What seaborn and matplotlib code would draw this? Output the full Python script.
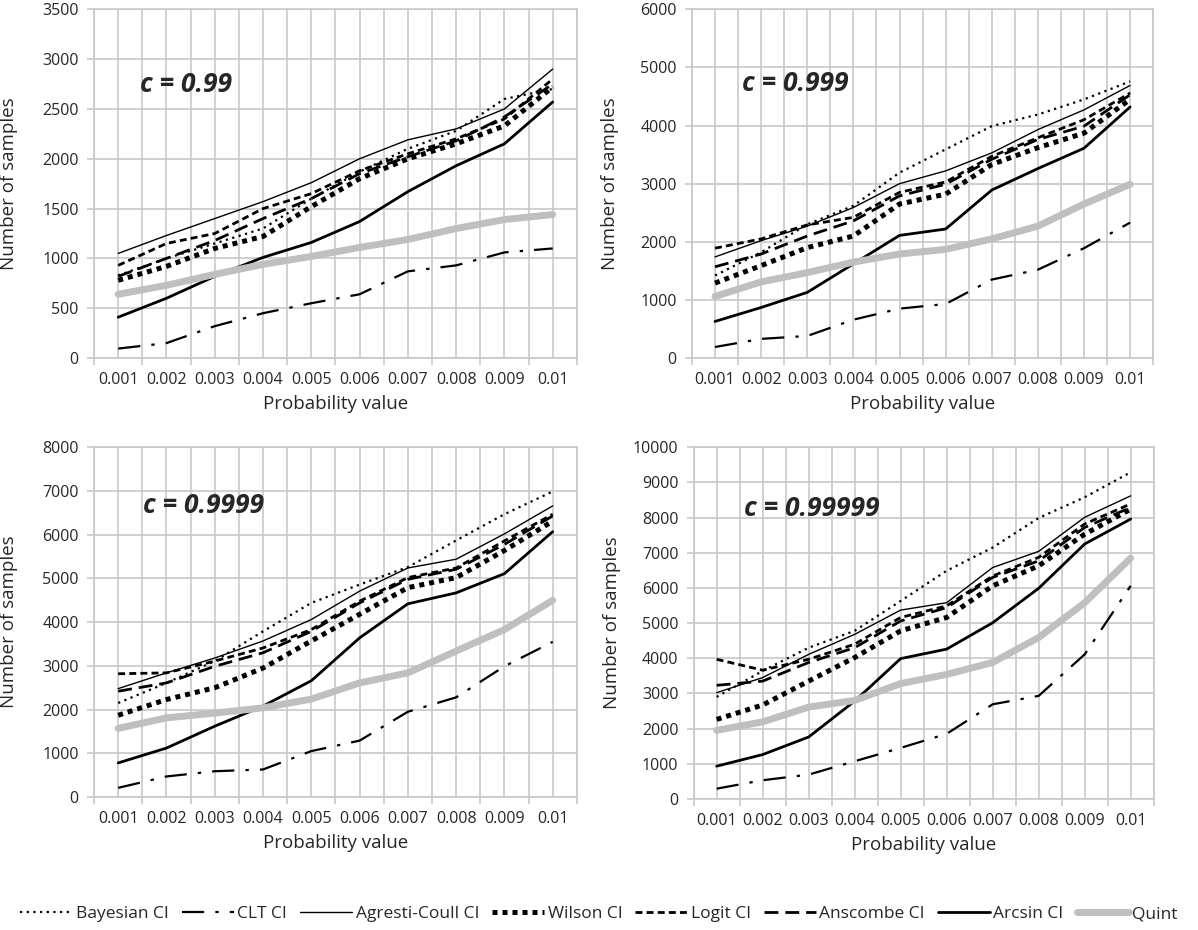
"""
置信区间方法比较：四个置信水平下所需样本数
"""

import matplotlib
matplotlib.use('Agg')
import matplotlib.pyplot as plt
from matplotlib.ticker import FixedLocator
import seaborn as sns

# x 轴
probs = [0.001, 0.002, 0.003, 0.004, 0.005, 0.006, 0.007, 0.008, 0.009, 0.01]
prob_labels = ['0.001', '0.002', '0.003', '0.004', '0.005',
               '0.006', '0.007', '0.008', '0.009', '0.01']

methods = ['Bayesian CI', 'CLT CI', 'Agresti-Coull CI', 'Wilson CI',
           'Logit CI', 'Anscombe CI', 'Arcsin CI', 'Quint']

# c = 0.99
c99 = {
    'Bayesian CI':      [830, 1000, 1150, 1300, 1600, 1870, 2100, 2280, 2600, 2700],
    'CLT CI':           [95, 150, 320, 450, 550, 640, 870, 930, 1060, 1100],
    'Agresti-Coull CI': [1050, 1230, 1400, 1570, 1760, 2000, 2190, 2300, 2500, 2900],
    'Wilson CI':        [780, 920, 1100, 1220, 1520, 1800, 2000, 2150, 2330, 2720],
    'Logit CI':         [930, 1150, 1250, 1500, 1650, 1880, 2050, 2200, 2400, 2800],
    'Anscombe CI':      [820, 1000, 1180, 1400, 1600, 1850, 2020, 2180, 2420, 2750],
    'Arcsin CI':        [410, 600, 820, 1010, 1160, 1370, 1670, 1930, 2150, 2570],
    'Quint':            [640, 730, 840, 940, 1020, 1110, 1190, 1300, 1390, 1440],
}

# c = 0.999
c999 = {
    'Bayesian CI':      [1420, 1820, 2300, 2620, 3190, 3590, 3990, 4190, 4450, 4760],
    'CLT CI':           [190, 330, 380, 660, 850, 930, 1350, 1520, 1890, 2330],
    'Agresti-Coull CI': [1740, 2020, 2270, 2590, 3000, 3220, 3530, 3930, 4270, 4690],
    'Wilson CI':        [1290, 1590, 1900, 2100, 2650, 2820, 3330, 3620, 3870, 4450],
    'Logit CI':         [1890, 2050, 2290, 2420, 2850, 3030, 3470, 3790, 4100, 4560],
    'Anscombe CI':      [1570, 1790, 2100, 2360, 2790, 2990, 3420, 3760, 3990, 4530],
    'Arcsin CI':        [630, 870, 1130, 1620, 2110, 2220, 2890, 3260, 3610, 4320],
    'Quint':            [1060, 1310, 1470, 1650, 1790, 1870, 2050, 2270, 2650, 2990],
}

# c = 0.9999
c9999 = {
    'Bayesian CI':      [2150, 2610, 3110, 3790, 4440, 4860, 5260, 5870, 6470, 6990],
    'CLT CI':           [210, 470, 590, 630, 1050, 1290, 1950, 2280, 2990, 3550],
    'Agresti-Coull CI': [2480, 2840, 3180, 3570, 4060, 4710, 5240, 5440, 6020, 6660],
    'Wilson CI':        [1870, 2230, 2500, 2950, 3570, 4180, 4790, 5020, 5640, 6310],
    'Logit CI':         [2820, 2840, 3110, 3410, 3830, 4480, 5020, 5240, 5860, 6470],
    'Anscombe CI':      [2420, 2610, 2990, 3300, 3790, 4440, 4980, 5210, 5780, 6430],
    'Arcsin CI':        [780, 1120, 1620, 2080, 2660, 3640, 4420, 4670, 5110, 6070],
    'Quint':            [1570, 1810, 1920, 2040, 2240, 2610, 2840, 3340, 3830, 4500],
}

# c = 0.99999
c99999 = {
    'Bayesian CI':      [2900, 3640, 4300, 4780, 5630, 6490, 7150, 7990, 8580, 9290],
    'CLT CI':           [290, 530, 690, 1070, 1450, 1850, 2690, 2930, 4110, 6060],
    'Agresti-Coull CI': [3020, 3450, 4110, 4680, 5370, 5580, 6580, 7040, 8010, 8620],
    'Wilson CI':        [2260, 2670, 3350, 4020, 4780, 5160, 6060, 6630, 7530, 8240],
    'Logit CI':         [3970, 3660, 3970, 4400, 5160, 5490, 6340, 6870, 7820, 8390],
    'Anscombe CI':      [3230, 3350, 3880, 4300, 5060, 5440, 6300, 6770, 7720, 8290],
    'Arcsin CI':        [930, 1260, 1760, 2780, 3990, 4260, 5010, 5990, 7250, 7960],
    'Quint':            [1950, 2190, 2610, 2800, 3280, 3540, 3880, 4590, 5580, 6850],
}

panels = [
    ('c = 0.99', c99, 3500, 500),
    ('c = 0.999', c999, 6000, 1000),
    ('c = 0.9999', c9999, 8000, 1000),
    ('c = 0.99999', c99999, 10000, 1000),
]

# 线型
styles = {
    'Bayesian CI':      dict(color='black', linewidth=1.6, linestyle=(0, (1, 2))),
    'CLT CI':           dict(color='black', linewidth=1.6, linestyle=(0, (10, 5, 1.5, 5))),
    'Agresti-Coull CI': dict(color='black', linewidth=1.0, linestyle='-'),
    'Wilson CI':        dict(color='black', linewidth=3.6, linestyle=(0, (1, 1))),
    'Logit CI':         dict(color='black', linewidth=2.0, linestyle=(0, (2.5, 1.5))),
    'Anscombe CI':      dict(color='black', linewidth=2.0, linestyle=(0, (5, 2.5))),
    'Arcsin CI':        dict(color='black', linewidth=2.0, linestyle='-'),
    'Quint':            dict(color='#bfbfbf', linewidth=5.0, linestyle='-'),
}

# 面板位置 (left, bottom, width, height)
rects = [
    (0.0785, 0.615, 0.403, 0.375),
    (0.5776, 0.615, 0.385, 0.375),
    (0.0785, 0.143, 0.403, 0.376),
    (0.5790, 0.141, 0.384, 0.378),
]
text_pos = [(0.095, 0.785), (0.108, 0.788), (0.101, 0.834), (0.11, 0.827)]

sns.set_theme(style='white')
plt.rcParams['font.family'] = ['Open Sans', 'DejaVu Sans']

grid_color = '#c8c8c8'
boundaries = [p - 0.0005 for p in probs] + [probs[-1] + 0.0005]

fig = plt.figure(figsize=(11.98, 9.30), dpi=100)
handles = None

for (title, data, ymax, ystep), rect, (tx, ty) in zip(panels, rects, text_pos):
    ax = fig.add_axes(rect)
    for m in methods:
        sns.lineplot(x=probs, y=data[m], ax=ax, legend=False, **styles[m])
    if handles is None:
        handles = list(ax.get_lines())

    ax.set_xlim(boundaries[0], boundaries[-1])
    ax.set_ylim(0, ymax)
    ax.set_yticks(list(range(0, ymax + 1, ystep)))
    ax.set_xticks(probs)
    ax.set_xticklabels(prob_labels)
    ax.xaxis.set_minor_locator(FixedLocator(boundaries))

    ax.grid(True, which='major', axis='y', color=grid_color, linewidth=1.2)
    ax.grid(True, which='both', axis='x', color=grid_color, linewidth=1.2)
    ax.set_axisbelow(True)
    for s in ax.spines.values():
        s.set_color(grid_color)
        s.set_linewidth(1.2)

    ax.tick_params(axis='x', which='major', length=0, labelsize=11.5, pad=10)
    ax.tick_params(axis='x', which='minor', length=5, width=1.2,
                   color=grid_color, bottom=True)
    ax.tick_params(axis='y', length=5, width=1.2, color=grid_color,
                   labelsize=11.5, pad=6, left=True)

    ax.set_xlabel('Probability value', fontsize=13.5)
    ax.xaxis.set_label_coords(0.5, -0.105)
    ax.set_ylabel('Number of samples', fontsize=13.5)
    ax.yaxis.set_label_coords(-0.158, 0.5)

    ax.text(tx, ty, title, transform=ax.transAxes, fontsize=19,
            fontweight='bold', fontstyle='italic', va='center', ha='left')

fig.legend(handles, methods, loc='center', bbox_to_anchor=(0.5, 1 - 914 / 930),
           ncol=8, frameon=False, fontsize=12.5, handlelength=3.0,
           handletextpad=0.2, columnspacing=0.75)

fig.savefig('out.png', dpi=100)
